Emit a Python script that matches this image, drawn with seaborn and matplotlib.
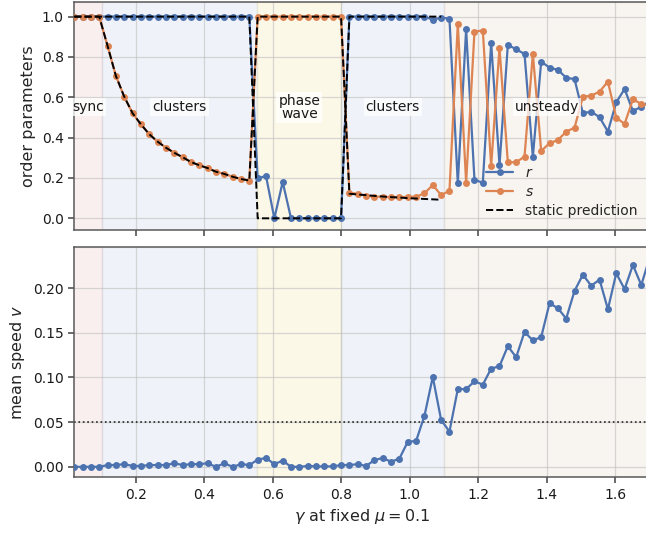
import numpy as np
import pandas as pd
import matplotlib
matplotlib.use("Agg")
import matplotlib.pyplot as plt
import seaborn as sns
from matplotlib.lines import Line2D

# ---- data -------------------------------------------------------------
gamma = np.linspace(0.02, 1.7, 70)

r_vals = [1.0] * 22 + [0.198, 0.21, 0.0, 0.18] + [0.0] * 7 + \
    [1.0] * 10 + [0.985, 0.995, 0.99] + \
    [0.173, 0.937, 0.19, 0.177, 0.868, 0.264, 0.86, 0.838, 0.815, 0.306,
     0.777, 0.747, 0.736, 0.697, 0.69, 0.521, 0.529, 0.501, 0.43, 0.575,
     0.641, 0.532, 0.553, 0.58]

s_vals = [1.0] * 4 + \
    [0.855, 0.706, 0.603, 0.521, 0.466, 0.417, 0.380, 0.350, 0.325, 0.303,
     0.279, 0.263, 0.249, 0.231, 0.220, 0.206, 0.195, 0.187] + \
    [1.0] * 11 + \
    [0.127, 0.121, 0.112, 0.107, 0.107, 0.104, 0.104, 0.107, 0.107, 0.124,
     0.165, 0.115, 0.137] + \
    [0.962, 0.177, 0.926, 0.931, 0.259, 0.846, 0.278, 0.278, 0.306, 0.815,
     0.334, 0.372, 0.388, 0.430, 0.449, 0.603, 0.608, 0.628, 0.678, 0.499,
     0.468, 0.590, 0.567, 0.56]

r_static = [1.0] * 22 + [0.0] * 11 + [1.0] * 12
s_static = [1.0] * 4 + \
    [0.855, 0.706, 0.603, 0.521, 0.466, 0.417, 0.380, 0.350, 0.325, 0.303,
     0.279, 0.263, 0.249, 0.231, 0.220, 0.206, 0.195, 0.187] + \
    [1.0] * 11 + \
    [0.122, 0.118, 0.115, 0.111, 0.108, 0.105, 0.103, 0.100, 0.098, 0.096,
     0.094, 0.092]

v_vals = [0.0, 0.0, 0.0, 0.0, 0.002, 0.002, 0.003, 0.001, 0.001, 0.002,
          0.002, 0.002, 0.004, 0.002, 0.003, 0.003, 0.004, 0.0, 0.004, 0.0,
          0.003, 0.002, 0.008, 0.010, 0.003, 0.007, 0.0, 0.0, 0.001, 0.0005,
          0.0005, 0.0005, 0.002, 0.002, 0.003, 0.001, 0.0075, 0.010, 0.0056, 0.0093,
          0.028, 0.029, 0.057, 0.1006, 0.0525, 0.0394, 0.087, 0.087, 0.0957, 0.092,
          0.110, 0.1126, 0.135, 0.1227, 0.151, 0.1415, 0.1452, 0.1831, 0.1775, 0.1659,
          0.197, 0.215, 0.2027, 0.2095, 0.1764, 0.2166, 0.1989, 0.2259, 0.2034, 0.234]

# phase regions
region_edges = [0.0, 0.1, 0.555, 0.8, 1.1, 1.8]
region_labels = ["sync", "clusters", "phase\nwave", "clusters", "unsteady"]
region_label_x = [0.06, 0.3275, 0.6775, 0.95, 1.4]
region_colors = ["#c44e52", "#4c72b0", "#ebc319", "#4c72b0", "#b98755"]
region_alphas = [0.09, 0.085, 0.1, 0.085, 0.09]

v_threshold = 0.05

# ---- style ------------------------------------------------------------
sns.set_theme(style="ticks", palette="deep")
plt.rcParams.update({
    "axes.edgecolor": "0.35",
    "axes.linewidth": 1.1,
    "xtick.color": "0.35",
    "ytick.color": "0.35",
    "xtick.labelcolor": "0.1",
    "ytick.labelcolor": "0.1",
    "xtick.labelsize": 10,
    "ytick.labelsize": 10,
    "axes.labelsize": 11.5,
    "xtick.major.size": 4,
    "ytick.major.size": 4,
})
plt.rcParams["font.family"] = ["DejaVu Sans"]

blue, orange = sns.color_palette("deep")[0], sns.color_palette("deep")[1]

fig = plt.figure(figsize=(6.46, 5.34), dpi=100)
W, H = 646.0, 534.0
left = 74.2 / W
width = (649.6 - 74.2) / W
ax1 = fig.add_axes([left, (H - 230) / H, width, (230 - 1.7) / H])
ax2 = fig.add_axes([left, (H - 477.3) / H, width, (477.3 - 247.3) / H], sharex=ax1)

for ax in (ax1, ax2):
    for i in range(len(region_labels)):
        ax.axvspan(region_edges[i], region_edges[i + 1],
                   color=region_colors[i], alpha=region_alphas[i], zorder=0)
    ax.grid(True, color="0.75", alpha=0.6, linewidth=0.9, zorder=0.5)
    ax.set_axisbelow(True)

df = pd.DataFrame({"gamma": gamma, "r": r_vals, "s": s_vals, "v": v_vals})
nst = len(r_static)
df_st = pd.DataFrame({"gamma": gamma[:nst], "r": r_static, "s": s_static})

mk = dict(marker="o", markersize=5, markeredgewidth=0, linewidth=1.6)
sns.lineplot(data=df, x="gamma", y="r", ax=ax1, color=blue, sort=False, zorder=3, **mk)
sns.lineplot(data=df, x="gamma", y="s", ax=ax1, color=orange, sort=False, zorder=3, **mk)
sns.lineplot(data=df_st, x="gamma", y="r", ax=ax1, color="black", sort=False,
             linestyle="--", linewidth=1.4, zorder=4)
sns.lineplot(data=df_st, x="gamma", y="s", ax=ax1, color="black", sort=False,
             linestyle="--", linewidth=1.4, zorder=4)

for lab, x in zip(region_labels, region_label_x):
    ax1.text(x, 0.55, lab, ha="center", va="center", fontsize=10, linespacing=0.85,
             color="0.1", zorder=5,
             bbox=dict(boxstyle="square,pad=0.15", fc="white", ec="none", alpha=0.75))

handles = [Line2D([], [], color=blue, **mk), Line2D([], [], color=orange, **mk),
           Line2D([], [], color="black", linestyle="--", linewidth=1.4)]
ax1.legend(handles, ["$r$", "$s$", "static prediction"], loc="lower right",
           frameon=False, fontsize=10, handlelength=2.0, labelspacing=0.35,
           numpoints=1)

sns.lineplot(data=df, x="gamma", y="v", ax=ax2, color=blue, sort=False, zorder=3, **mk)
ax2.axhline(v_threshold, color="0.15", linestyle=":", linewidth=1.2, zorder=2)

ax1.set_xlim(0.02, 1.7)
ax1.set_ylim(-0.058, 1.074)
ax1.set_yticks([0.0, 0.2, 0.4, 0.6, 0.8, 1.0])
ax2.set_ylim(-0.0117, 0.2457)
ax2.set_yticks([0.0, 0.05, 0.10, 0.15, 0.20])
ax2.set_xticks([0.2, 0.4, 0.6, 0.8, 1.0, 1.2, 1.4, 1.6])
ax1.tick_params(labelbottom=False)
ax1.set_xlabel("")
ax1.set_ylabel("order parameters")
ax2.set_ylabel("mean speed $v$")
ax2.set_xlabel(r"$\gamma$ at fixed $\mu = 0.1$")

fig.savefig("out.png", dpi=100)
